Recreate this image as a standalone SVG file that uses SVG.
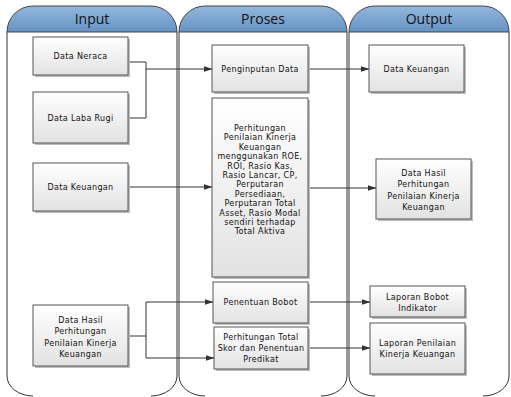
<svg xmlns="http://www.w3.org/2000/svg" width="511" height="397" viewBox="0 0 511 397">
<defs>
<linearGradient id="hdr" x1="0" y1="0" x2="0" y2="1">
<stop offset="0" stop-color="#94b8dd"/>
<stop offset="1" stop-color="#6592c4"/>
</linearGradient>
<linearGradient id="box" x1="0" y1="0" x2="0" y2="1">
<stop offset="0" stop-color="#ffffff"/>
<stop offset="1" stop-color="#e2e2e2"/>
</linearGradient>
<marker id="arr" markerWidth="9" markerHeight="7" refX="8.5" refY="3.5" orient="auto" markerUnits="userSpaceOnUse">
<path d="M0,0.5 L9,3.5 L0,6.5 Z" fill="#333"/>
</marker>
</defs>
<style>
.lane{fill:#ffffff;stroke:#333;stroke-width:1}
.hdr{fill:url(#hdr);stroke:#444;stroke-width:1}
.ht{font-family:"Open Sans","DejaVu Sans",sans-serif;font-size:14px;fill:#111;text-anchor:middle}
.b{fill:url(#box);stroke:#555;stroke-width:1}
.sh{fill:#bdbdbd}
.t{font-family:"DejaVu Sans","Open Sans",sans-serif;font-size:8px;letter-spacing:0.35px;fill:#111;text-anchor:middle}
.c{fill:none;stroke:#333;stroke-width:1}
.ca{fill:none;stroke:#333;stroke-width:1;marker-end:url(#arr)}
</style>
<rect width="511" height="397" fill="#ffffff"/>
<g id="lanes">
<g id="lane-input">
<path class="lane" d="M7,32 V376 A26,20 0 0 0 33,396 M177,32 V376 A26,20 0 0 1 151,396"/>
<path class="hdr" d="M7,32 A26,26 0 0 1 33,6 H151 A26,26 0 0 1 177,32 Z"/>
<text class="ht" x="92" y="24">Input</text>
</g>
<g id="lane-proses">
<path class="lane" d="M179,32 V376 A26,20 0 0 0 205,396 M347,32 V376 A26,20 0 0 1 321,396"/>
<path class="hdr" d="M179,32 A26,26 0 0 1 205,6 H321 A26,26 0 0 1 347,32 Z"/>
<text class="ht" x="263" y="24">Proses</text>
</g>
<g id="lane-output">
<path class="lane" d="M349,32 V376 A26,20 0 0 0 375,396 M509,32 V376 A26,20 0 0 1 483,396"/>
<path class="hdr" d="M349,32 A26,26 0 0 1 375,6 H483 A26,26 0 0 1 509,32 Z"/>
<text class="ht" x="429" y="24">Output</text>
</g>
</g>
<g id="connectors">
<path class="c" d="M128,62 H146 V118 H128"/>
<path class="ca" d="M146,69 H212"/>
<path class="ca" d="M308,69 H369"/>
<path class="ca" d="M128,187 H212"/>
<path class="ca" d="M308,188 H376"/>
<path class="c" d="M128,336 H146"/>
<path class="ca" d="M146,302 H213"/>
<path class="ca" d="M146,358 H214"/>
<path class="c" d="M146,302 V358"/>
<path class="ca" d="M308,302 H370"/>
<path class="ca" d="M308,348 H370"/>
</g>
<g id="n-data-neraca">
<rect class="sh" x="35" y="39" width="95" height="38"/>
<rect class="b" x="33" y="37" width="95" height="38"/>
<text class="t" x="80.5" y="59">Data Neraca</text>
</g>
<g id="n-data-laba-rugi">
<rect class="sh" x="35" y="94" width="95" height="51"/>
<rect class="b" x="33" y="92" width="95" height="51"/>
<text class="t" x="80.5" y="121">Data Laba Rugi</text>
</g>
<g id="n-data-keuangan-in">
<rect class="sh" x="35" y="165" width="95" height="48"/>
<rect class="b" x="33" y="163" width="95" height="48"/>
<text class="t" x="80.5" y="190">Data Keuangan</text>
</g>
<g id="n-data-hasil-in">
<rect class="sh" x="35" y="307" width="95" height="61"/>
<rect class="b" x="33" y="305" width="95" height="61"/>
<text class="t" x="80.5" y="323"><tspan x="80.5">Data Hasil</tspan><tspan x="80.5" dy="11.4">Perhitungan</tspan><tspan x="80.5" dy="11.4">Penilaian Kinerja</tspan><tspan x="80.5" dy="11.4">Keuangan</tspan></text>
</g>
<g id="n-penginputan">
<rect class="sh" x="214" y="47" width="96" height="47"/>
<rect class="b" x="212" y="45" width="96" height="47"/>
<text class="t" x="260" y="72">Penginputan Data</text>
</g>
<g id="n-perhitungan">
<rect class="sh" x="214" y="100" width="96" height="179"/>
<rect class="b" x="212" y="98" width="96" height="179"/>
<text class="t" x="260" y="131"><tspan x="260">Perhitungan</tspan><tspan x="260" dy="9.4">Penilaian Kinerja</tspan><tspan x="260" dy="9.4">Keuangan</tspan><tspan x="260" dy="9.4">menggunakan ROE,</tspan><tspan x="260" dy="9.4">ROI, Rasio Kas,</tspan><tspan x="260" dy="9.4">Rasio Lancar, CP,</tspan><tspan x="260" dy="9.4">Perputaran</tspan><tspan x="260" dy="9.4">Persediaan,</tspan><tspan x="260" dy="9.4">Perputaran Total</tspan><tspan x="260" dy="9.4">Asset, Rasio Modal</tspan><tspan x="260" dy="9.4">sendiri terhadap</tspan><tspan x="260" dy="9.4">Total Aktiva</tspan></text>
</g>
<g id="n-penentuan-bobot">
<rect class="sh" x="215" y="284" width="95" height="41"/>
<rect class="b" x="213" y="282" width="95" height="41"/>
<text class="t" x="260.5" y="305">Penentuan Bobot</text>
</g>
<g id="n-perhitungan-total">
<rect class="sh" x="216" y="329" width="94" height="42"/>
<rect class="b" x="214" y="327" width="94" height="42"/>
<text class="t" x="261" y="340"><tspan x="261">Perhitungan Total</tspan><tspan x="261" dy="11">Skor dan Penentuan</tspan><tspan x="261" dy="11">Predikat</tspan></text>
</g>
<g id="n-data-keuangan-out">
<rect class="sh" x="371" y="47" width="95" height="47"/>
<rect class="b" x="369" y="45" width="95" height="47"/>
<text class="t" x="416.5" y="72">Data Keuangan</text>
</g>
<g id="n-data-hasil-out">
<rect class="sh" x="378" y="161" width="95" height="60"/>
<rect class="b" x="376" y="159" width="95" height="60"/>
<text class="t" x="423.5" y="176"><tspan x="423.5">Data Hasil</tspan><tspan x="423.5" dy="11.4">Perhitungan</tspan><tspan x="423.5" dy="11.4">Penilaian Kinerja</tspan><tspan x="423.5" dy="11.4">Keuangan</tspan></text>
</g>
<g id="n-laporan-bobot">
<rect class="sh" x="372" y="288" width="95" height="31"/>
<rect class="b" x="370" y="286" width="95" height="31"/>
<text class="t" x="417.5" y="300"><tspan x="417.5">Laporan Bobot</tspan><tspan x="417.5" dy="11">Indikator</tspan></text>
</g>
<g id="n-laporan-penilaian">
<rect class="sh" x="372" y="325" width="95" height="51"/>
<rect class="b" x="370" y="323" width="95" height="51"/>
<text class="t" x="417.5" y="346"><tspan x="417.5">Laporan Penilaian</tspan><tspan x="417.5" dy="11">Kinerja Keuangan</tspan></text>
</g>
</svg>
